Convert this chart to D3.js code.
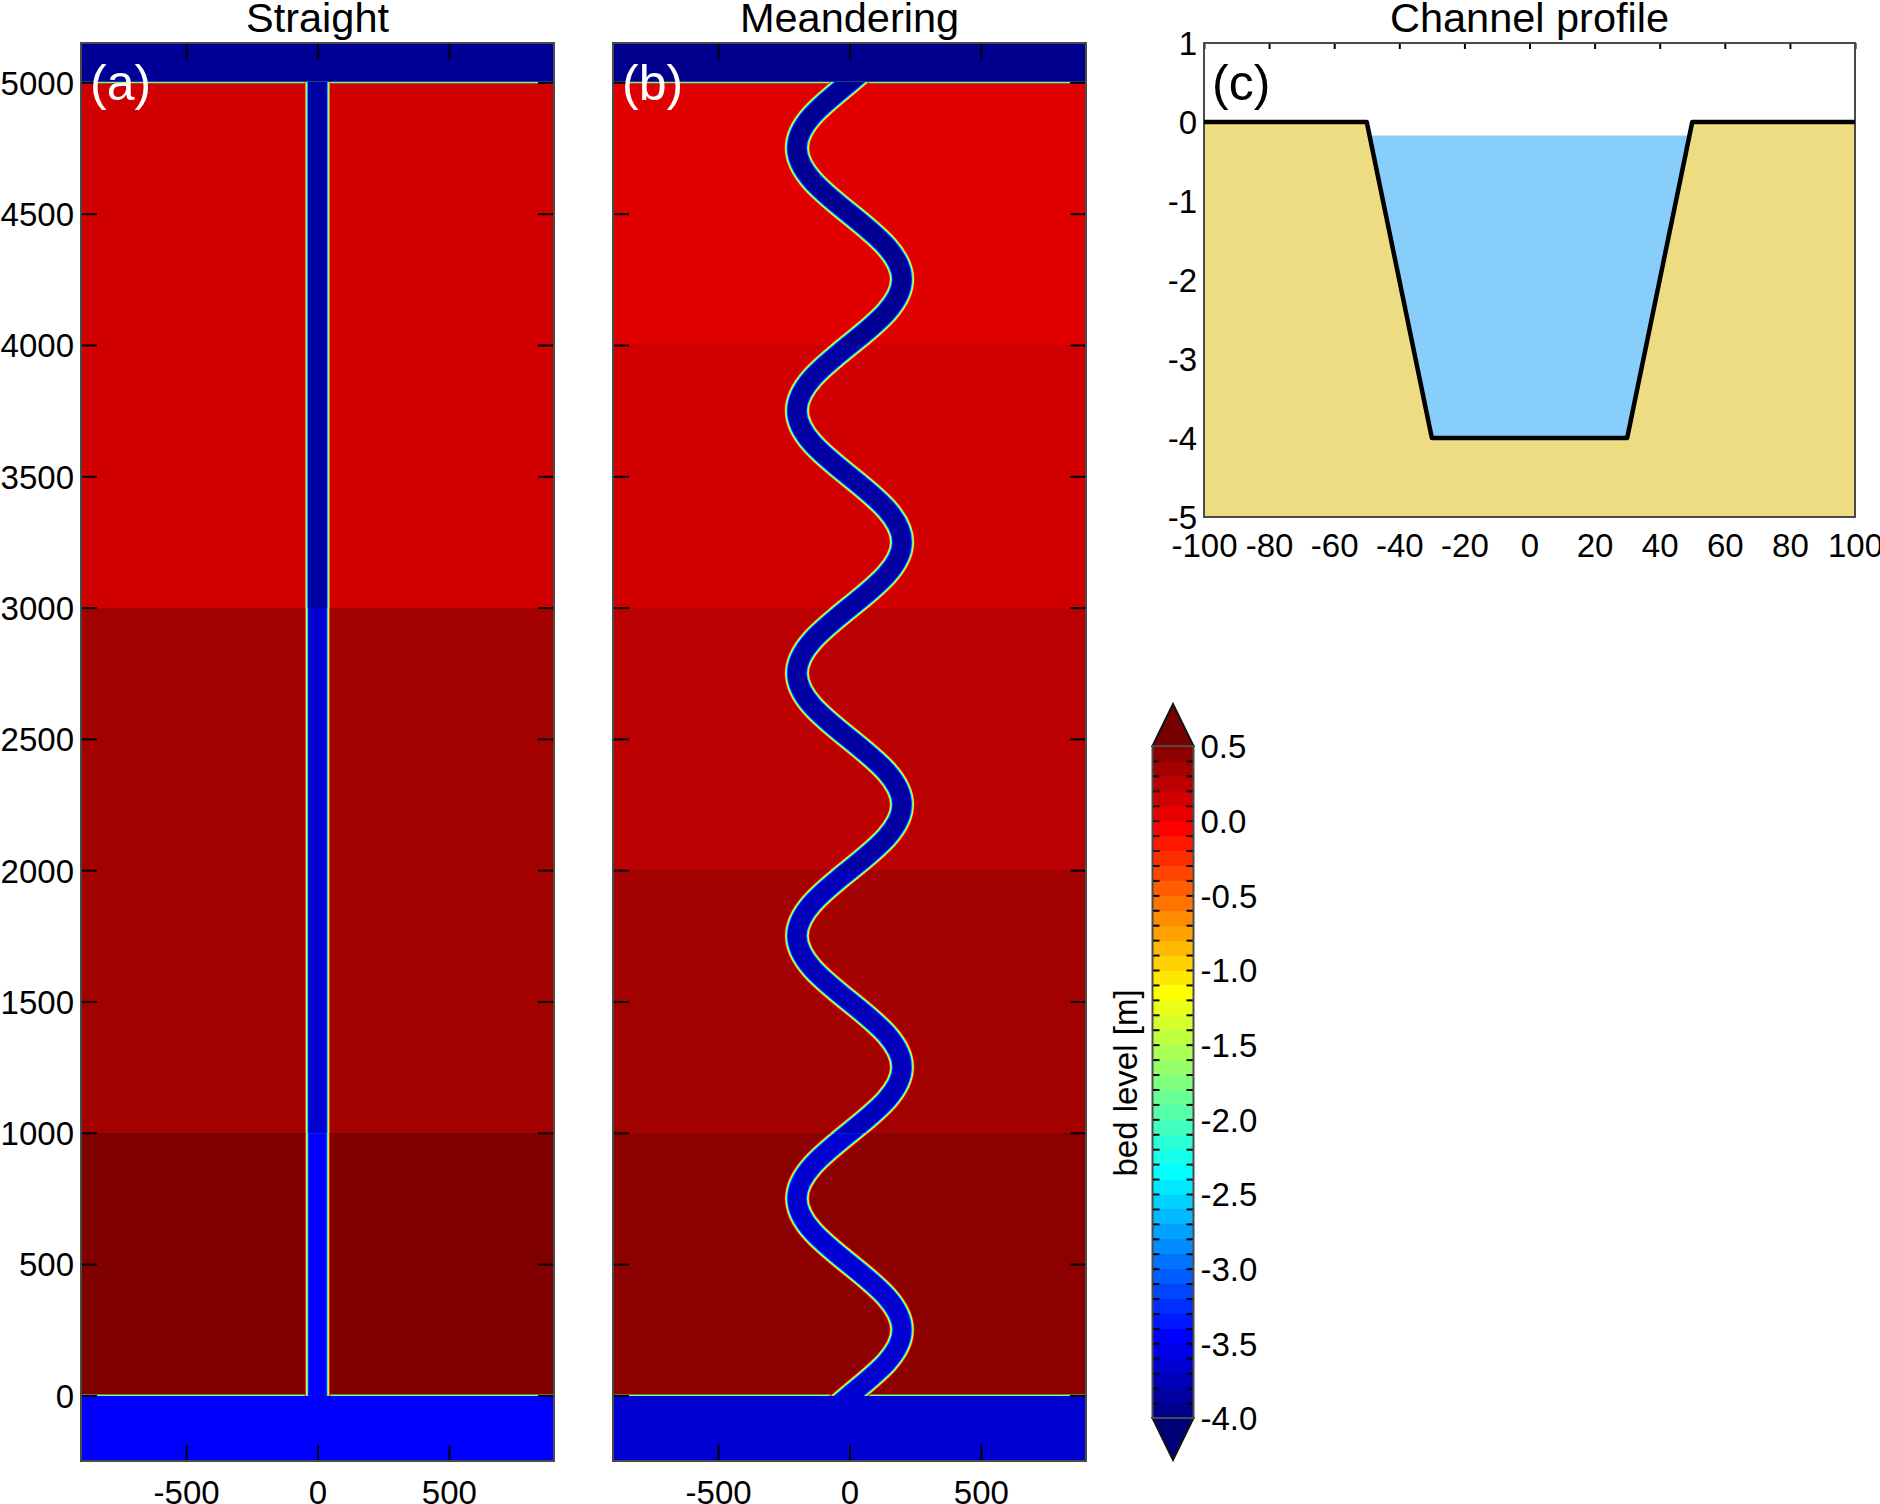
<!DOCTYPE html>
<html>
<head>
<meta charset="utf-8">
<title>Straight and meandering channels</title>
<script src="https://d3js.org/d3.v7.min.js"></script>
<style>
  html, body { margin: 0; padding: 0; background: #fff; }
  text { font-family: "Liberation Sans", Arial, sans-serif; fill: #000; }
</style>
</head>
<body>
<svg id="chart" width="1880" height="1504"></svg>
<script>
// Plan view extent shared by (a) and (b)
const planXDomain = [-900, 900];
const planYDomain = [-250, 5150];
const planXTicks = [-500, 0, 500];
const planYTicks = [0, 500, 1000, 1500, 2000, 2500, 3000, 3500, 4000, 4500, 5000];

// Bed level steps: [from y, to y, floodplain, channel]
const straightFrom = [0, 1000, 3000];
const straightTo = [1000, 3000, 5000];
const straightBed = [0.55, 0.35, 0.15];
const straightChannel = [-3.45, -3.65, -3.9];
const straightSea = [-3.45, -3.9]; // downstream, upstream

const meanderFrom = [0, 1000, 2000, 3000, 4000];
const meanderTo = [1000, 2000, 3000, 4000, 5000];
const meanderBed = [0.45, 0.35, 0.25, 0.15, 0.08];
const meanderChannel = [-3.65, -3.75, -3.85, -3.85, -3.95];
const meanderSea = [-3.65, -3.95];

// Channel centrelines
const straightStations = [-125, 5125];
const straightOffsets = [0, 0];
const meanderStations = [-125, 0, 125, 250, 375, 500, 625, 750, 875, 1000, 1125, 1250, 1375, 1500, 1625, 1750, 1875,
    2000, 2125, 2250, 2375, 2500, 2625, 2750, 2875, 3000, 3125, 3250, 3375, 3500, 3625, 3750, 3875,
    4000, 4125, 4250, 4375, 4500, 4625, 4750, 4875, 5000, 5125];
const meanderOffsets = [-141, 0, 141, 200, 141, 0, -141, -200, -141, 0, 141, 200, 141, 0, -141, -200, -141,
    0, 141, 200, 141, 0, -141, -200, -141, 0, 141, 200, 141, 0, -141, -200, -141,
    0, 141, 200, 141, 0, -141, -200, -141, 0, 141];

// Channel width seen on the plan grid at bank top and at the bed [m]
const bankTopWidth = 96;
const bankToeWidth = 66;

// Panel (c) cross section
const profileX = [-100, -50, -30, 30, 50, 100];
const profileZ = [0, 0, -4, -4, 0, 0];
const waterX = [-48.7, -30, 30, 48.7];
const waterZ = [-0.17, -4, -4, -0.17];
const profileXTicks = [-100, -80, -60, -40, -20, 0, 20, 40, 60, 80, 100];
const profileYTicks = [-5, -4, -3, -2, -1, 0, 1];

// Colour bar
const jetValues = [-4, -3.45, -2.35, -1.15, -0.05, 0.5];
const jetColours = ['#000080', '#0000ff', '#00ffff', '#ffff00', '#ff0000', '#800000'];
const barBinEdges = d3.range(0, 46).map(i => -4 + i * 0.1);
const barLabels = [-4, -3.5, -3, -2.5, -2, -1.5, -1, -0.5, 0, 0.5];

const jet = d3.scaleLinear().domain(jetValues).range(jetColours).clamp(true);

const svg = d3.select('#chart');
const tickFont = 33;
const titleFont = 41.5;
const panelLabelFont = 50;
const frameColour = '#4a4a4a';

// The figure uses a plain hyphen for negative numbers
const hyphen = specifier => {
    const f = d3.format(specifier);
    return d => f(d).replace('\u2212', '-');
};

/**
 * Style an axis group and drop its domain line.
 */
function styleAxis(g, fontSize) {
    g.select('.domain').remove();
    g.selectAll('.tick line').attr('stroke', '#000').attr('stroke-width', 2);
    g.selectAll('text')
        .attr('font-size', fontSize)
        .attr('font-family', '"Liberation Sans", Arial, sans-serif')
        .attr('fill', '#000')
        .attr('dy', function() {
            return d3.select(this).attr('dy') === '0.32em' ? '0.36em' : d3.select(this).attr('dy');
        });
}

/**
 * Draw one plan view panel: stepped bed, sea, channel, ticks and labels.
 */
function drawPlan(id, left, right, title, label, showYLabels, from, to, bed, channel, sea, stations, offsets) {
    const top = 43, bottom = 1461;
    const x = d3.scaleLinear().domain(planXDomain).range([left, right]);
    const y = d3.scaleLinear().domain(planYDomain).range([bottom, top]);
    const panel = svg.append('g');
    const metre = x(1) - x(0);

    panel.selectAll('rect.bed')
        .data(bed)
        .join('rect')
        .attr('class', 'bed')
        .attr('x', left)
        .attr('width', right - left)
        .attr('y', (d, i) => y(to[i]))
        .attr('height', (d, i) => y(from[i]) - y(to[i]))
        .attr('fill', d => jet(d))
        .attr('shape-rendering', 'crispEdges');

    // Open water beyond both ends of the channel
    panel.append('rect').attr('x', left).attr('width', right - left)
        .attr('y', y(0)).attr('height', bottom - y(0)).attr('fill', jet(sea[0]))
        .attr('shape-rendering', 'crispEdges');
    panel.append('rect').attr('x', left).attr('width', right - left)
        .attr('y', top).attr('height', y(5000) - top).attr('fill', jet(sea[1]))
        .attr('shape-rendering', 'crispEdges');

    // The thin steep edge where the bed meets the sea
    panel.selectAll('line.edge')
        .data([0, 5000])
        .join('line')
        .attr('class', 'edge')
        .attr('x1', left).attr('x2', right)
        .attr('y1', d => y(d)).attr('y2', d => y(d))
        .attr('stroke', jet(-1.8))
        .attr('stroke-width', 1.5);

    const line = d3.line()
        .x(d => x(d[0]))
        .y(d => y(d[1]))
        .curve(d3.curveNatural);
    const centre = line(stations.map((s, i) => [offsets[i], s]));

    bed.forEach((level, s) => {
        const clipId = id + '-section-' + s;
        panel.append('clipPath').attr('id', clipId)
            .append('rect')
            .attr('x', left).attr('width', right - left)
            .attr('y', y(to[s]) - 0.5)
            .attr('height', y(from[s]) - y(to[s]) + 1);

        // Nested strokes, one per colour bin, from bank top down to the bed
        const depthWidth = d3.scaleLinear().domain([level, channel[s]]).range([bankTopWidth, bankToeWidth]);
        const bins = d3.range(level, channel[s] - 0.01, -0.1);
        panel.append('g')
            .attr('clip-path', 'url(#' + clipId + ')')
            .attr('fill', 'none')
            .selectAll('path')
            .data(bins)
            .join('path')
            .attr('d', centre)
            .attr('stroke', d => jet(d))
            .attr('stroke-width', d => depthWidth(d) * metre);
    });

    // Inward ticks on all four sides
    const tickLength = 16;
    panel.append('g').attr('transform', 'translate(' + left + ',0)')
        .call(d3.axisLeft(y).tickValues(planYTicks).tickSize(-tickLength).tickPadding(7)
            .tickFormat(showYLabels ? hyphen('d') : ''))
        .call(styleAxis, tickFont);
    panel.append('g').attr('transform', 'translate(' + right + ',0)')
        .call(d3.axisRight(y).tickValues(planYTicks).tickSize(-tickLength).tickFormat(''))
        .call(styleAxis, tickFont);
    panel.append('g').attr('transform', 'translate(0,' + bottom + ')')
        .call(d3.axisBottom(x).tickValues(planXTicks).tickSize(-tickLength).tickPadding(20).tickFormat(hyphen('d')))
        .call(styleAxis, tickFont);
    panel.append('g').attr('transform', 'translate(0,' + top + ')')
        .call(d3.axisTop(x).tickValues(planXTicks).tickSize(-tickLength).tickFormat(''))
        .call(styleAxis, tickFont);

    panel.append('rect')
        .attr('x', left).attr('y', top)
        .attr('width', right - left).attr('height', bottom - top)
        .attr('fill', 'none')
        .attr('stroke', frameColour)
        .attr('stroke-width', 2);

    panel.append('text')
        .attr('x', (left + right) / 2).attr('y', 32)
        .attr('text-anchor', 'middle')
        .attr('font-size', titleFont)
        .text(title);
    panel.append('text')
        .attr('x', left + 9).attr('y', 100)
        .attr('font-size', panelLabelFont)
        .style('fill', '#fff')
        .text(label);
}

/**
 * Draw panel (c), the channel cross section.
 */
function drawProfile() {
    const left = 1204, right = 1855, top = 43, bottom = 517;
    const x = d3.scaleLinear().domain([-100, 100]).range([left, right]);
    const y = d3.scaleLinear().domain([-5, 1]).range([bottom, top]);
    const panel = svg.append('g');

    const area = d3.area()
        .x(d => x(d[0]))
        .y0(bottom)
        .y1(d => y(d[1]));
    const line = d3.line()
        .x(d => x(d[0]))
        .y(d => y(d[1]));
    const bedPoints = profileX.map((v, i) => [v, profileZ[i]]);

    panel.append('path')
        .attr('d', line(waterX.map((v, i) => [v, waterZ[i]])) + 'Z')
        .attr('fill', '#87cefa');
    panel.append('path')
        .attr('d', area(bedPoints))
        .attr('fill', '#eedc82');

    panel.append('g').attr('transform', 'translate(0,' + top + ')')
        .call(d3.axisTop(x).tickValues(profileXTicks).tickSize(-6).tickFormat(''))
        .call(styleAxis, tickFont);
    panel.append('g').attr('transform', 'translate(0,' + bottom + ')')
        .call(d3.axisBottom(x).tickValues(profileXTicks).tickSize(0).tickPadding(17).tickFormat(hyphen('d')))
        .call(styleAxis, tickFont);
    panel.append('g').attr('transform', 'translate(' + left + ',0)')
        .call(d3.axisLeft(y).tickValues(profileYTicks).tickSize(0).tickPadding(7).tickFormat(hyphen('d')))
        .call(styleAxis, tickFont);

    panel.append('rect')
        .attr('x', left).attr('y', top)
        .attr('width', right - left).attr('height', bottom - top)
        .attr('fill', 'none')
        .attr('stroke', frameColour)
        .attr('stroke-width', 2);

    panel.append('path')
        .attr('d', line(bedPoints))
        .attr('fill', 'none')
        .attr('stroke', '#000')
        .attr('stroke-width', 4.5)
        .attr('stroke-linejoin', 'round');

    panel.append('text')
        .attr('x', (left + right) / 2).attr('y', 32)
        .attr('text-anchor', 'middle')
        .attr('font-size', titleFont)
        .text('Channel profile');
    panel.append('text')
        .attr('x', left + 8).attr('y', 100)
        .attr('font-size', panelLabelFont)
        .text('(c)');
}

/**
 * Draw the discrete colour bar with its two over/under range triangles.
 */
function drawColourBar() {
    const left = 1152.5, right = 1193.5, top = 746, bottom = 1418;
    const y = d3.scaleLinear().domain([-4, 0.5]).range([bottom, top]);
    const mid = (left + right) / 2;
    const bar = svg.append('g');

    bar.selectAll('rect.bin')
        .data(barBinEdges.slice(0, -1))
        .join('rect')
        .attr('class', 'bin')
        .attr('x', left)
        .attr('width', right - left)
        .attr('y', d => y(d + 0.1))
        .attr('height', d => y(d) - y(d + 0.1) + 0.5)
        .attr('fill', d => jet(d + 0.05))
        .attr('shape-rendering', 'crispEdges');

    bar.append('path')
        .attr('d', d3.line()([[left, top], [mid, 704], [right, top]]) + 'Z')
        .attr('fill', '#780000')
        .attr('stroke', '#111')
        .attr('stroke-width', 2);
    bar.append('path')
        .attr('d', d3.line()([[left, bottom], [mid, 1460], [right, bottom]]) + 'Z')
        .attr('fill', '#000078')
        .attr('stroke', '#111')
        .attr('stroke-width', 2);

    bar.append('g').attr('transform', 'translate(' + left + ',0)')
        .call(d3.axisRight(y).tickValues(barBinEdges.slice(1, -1)).tickSize(7).tickFormat(''))
        .call(styleAxis, tickFont);
    bar.append('g').attr('transform', 'translate(' + right + ',0)')
        .call(d3.axisLeft(y).tickValues(barBinEdges.slice(1, -1)).tickSize(7).tickFormat(''))
        .call(styleAxis, tickFont);
    bar.append('g').attr('transform', 'translate(' + right + ',0)')
        .call(d3.axisRight(y).tickValues(barLabels).tickSize(0).tickPadding(7).tickFormat(hyphen('.1f')))
        .call(styleAxis, tickFont)
        .call(g => g.selectAll('.tick line').remove());

    bar.append('rect')
        .attr('x', left).attr('y', top)
        .attr('width', right - left).attr('height', bottom - top)
        .attr('fill', 'none')
        .attr('stroke', frameColour)
        .attr('stroke-width', 2);

    bar.append('text')
        .attr('transform', 'translate(1137,1083) rotate(-90)')
        .attr('text-anchor', 'middle')
        .attr('font-size', tickFont)
        .text('bed level [m]');
}

drawPlan('straight', 81, 554, 'Straight', '(a)', true, straightFrom, straightTo, straightBed, straightChannel, straightSea,
    straightStations, straightOffsets);
drawPlan('meander', 613, 1086, 'Meandering', '(b)', false, meanderFrom, meanderTo, meanderBed, meanderChannel, meanderSea,
    meanderStations, meanderOffsets);
drawProfile();
drawColourBar();
</script>
</body>
</html>
